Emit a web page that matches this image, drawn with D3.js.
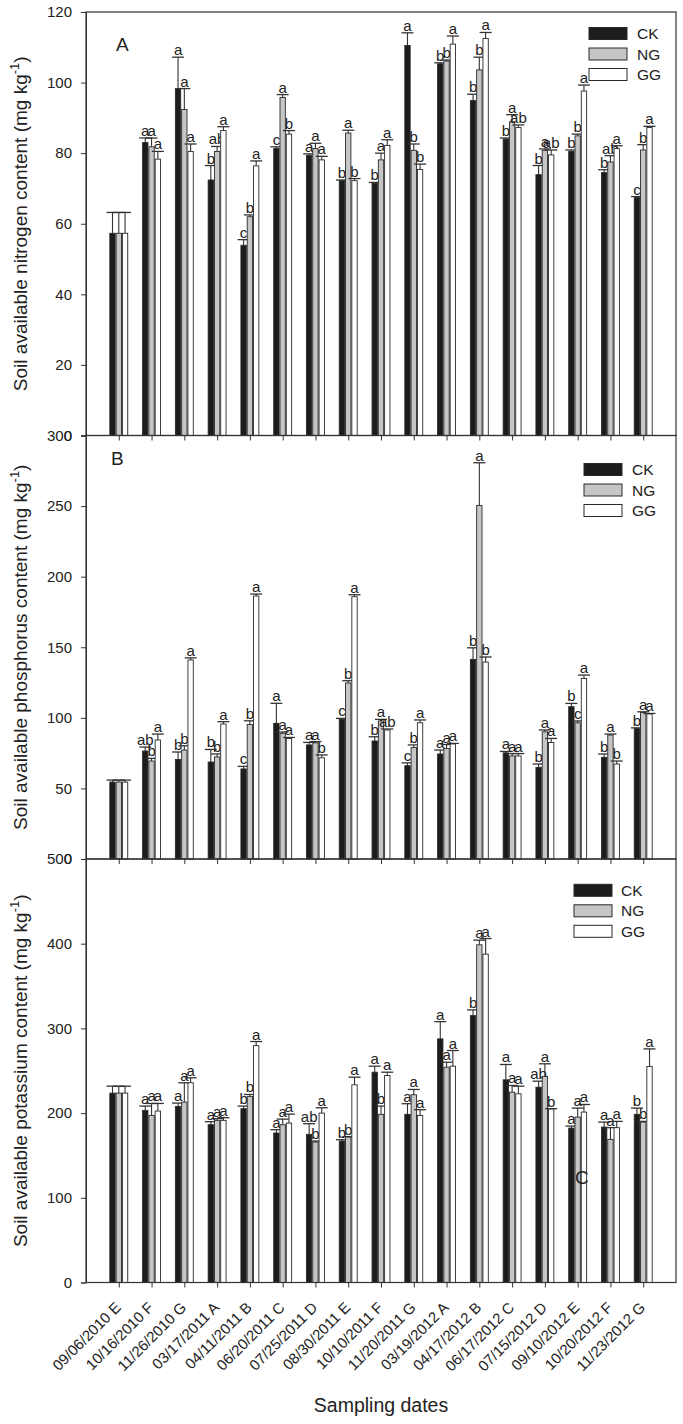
<!DOCTYPE html>
<html>
<head>
<meta charset="utf-8">
<script src="https://cdn.jsdelivr.net/npm/d3@7"></script>
<style>
  html, body { margin: 0; padding: 0; background: #fff; }
  svg { display: block; }
  text { font-family: "Liberation Sans", Arial, sans-serif; fill: #222; }
</style>
</head>
<body>
<svg id="chart" width="683" height="1424"></svg>
<script>
// ---------------- DATA ----------------
const categories = ["09/06/2010 E","10/16/2010 F","11/26/2010 G","03/17/2011 A","04/11/2011 B","06/20/2011 C","07/25/2011 D","08/30/2011 E","10/10/2011 F","11/20/2011 G","03/19/2012 A","04/17/2012 B","06/17/2012 C","07/15/2012 D","09/10/2012 E","10/20/2012 F","11/23/2012 G"];
const seriesNames = ["CK","NG","GG"];

// Panel A: nitrogen
const nCK    = [57.3, 83.0, 98.3, 72.4, 53.9, 81.3, 79.4, 72.2, 71.4, 110.5, 105.3, 94.9, 84.0, 73.9, 80.5, 74.5, 67.4];
const nCKerr = [5.9, 1.3, 8.9, 4.1, 1.6, 0.5, 0.4, 0.2, 0.3, 3.6, 0.3, 1.8, 0.3, 2.6, 0.4, 0.8, 0.3];
const nNG    = [57.3, 81.8, 92.4, 80.5, 62.0, 95.8, 81.3, 85.7, 78.1, 80.8, 106.1, 103.6, 88.9, 80.8, 84.9, 77.5, 80.9];
const nNGerr = [5.9, 2.5, 5.9, 1.4, 0.5, 0.8, 1.5, 0.8, 1.9, 1.8, 0.3, 3.6, 2.0, 0.4, 0.5, 1.8, 1.5];
const nGG    = [57.3, 78.3, 80.5, 86.4, 76.4, 85.4, 78.1, 72.2, 82.2, 75.4, 110.9, 112.5, 87.3, 79.5, 97.6, 81.3, 87.3];
const nGGerr = [5.9, 2.2, 2.1, 1.1, 1.4, 1.0, 1.0, 0.6, 1.6, 1.5, 2.3, 1.7, 0.7, 1.4, 1.7, 0.8, 0.3];
const nLetCK = ["","a","a","b","c","c","a","b","b","a","b","b","b","b","b","b","c"];
const nLetNG = ["","a","a","ab","b","a","a","a","a","b","b","b","a","a","b","ab","b"];
const nLetGG = ["","a","a","a","a","b","a","b","a","b","a","a","ab","ab","a","a","a"];
const nTicks = [0,20,40,60,80,100,120];

// Panel B: phosphorus
const pCK    = [54.5, 76.5, 70.5, 68.7, 63.8, 96.1, 80.8, 98.9, 83.6, 66.1, 74.4, 141.4, 75.2, 64.9, 107.9, 72.0, 92.3];
const pCKerr = [1.4, 2.8, 5.3, 8.9, 1.8, 14.2, 1.8, 0.7, 3.0, 2.0, 2.8, 8.2, 1.0, 2.4, 2.3, 2.4, 0.6];
const pNG    = [54.5, 69.4, 77.2, 72.3, 95.3, 89.0, 82.3, 124.7, 97.8, 79.0, 78.3, 250.5, 73.0, 90.1, 96.5, 87.8, 103.8];
const pNGerr = [1.4, 1.9, 3.0, 2.1, 2.6, 1.0, 0.9, 1.6, 1.1, 1.8, 2.8, 30.2, 1.7, 1.3, 1.3, 0.7, 0.5];
const pGG    = [54.5, 84.3, 141.0, 95.6, 186.3, 85.4, 71.7, 185.8, 91.4, 96.5, 81.5, 139.5, 73.0, 82.5, 127.9, 67.3, 102.7];
const pGGerr = [1.4, 4.2, 1.5, 1.7, 1.4, 0.7, 2.0, 1.4, 0.7, 2.0, 0.4, 3.6, 1.7, 2.9, 2.4, 2.1, 0.4];
const pLetCK = ["","ab","b","b","c","a","a","c","b","c","a","b","a","b","b","b","b"];
const pLetNG = ["","b","b","b","b","a","a","b","a","b","a","a","a","a","c","a","a"];
const pLetGG = ["","a","a","a","a","a","b","a","ab","a","a","b","a","a","a","b","a"];
const pTicks = [0,50,100,150,200,250,300];

// Panel C: potassium
const kCK    = [223.6, 203.2, 207.9, 186.3, 205.2, 176.5, 174.9, 167.0, 248.3, 198.5, 287.6, 315.1, 239.3, 230.6, 182.3, 183.5, 198.5];
const kCKerr = [8.2, 5.1, 3.9, 3.6, 3.1, 3.9, 12.6, 1.6, 7.1, 12.6, 20.4, 6.7, 18.1, 7.1, 2.4, 5.9, 7.4];
const kNG    = [223.6, 197.3, 213.0, 191.4, 219.7, 186.3, 165.8, 171.7, 198.5, 221.7, 254.2, 398.7, 224.7, 243.2, 195.3, 169.0, 189.4];
const kNGerr = [8.2, 14.1, 22.8, 2.0, 2.3, 6.6, 1.2, 0.5, 9.8, 6.2, 5.9, 5.5, 7.9, 15.0, 10.6, 13.8, 0.8];
const kGG    = [223.6, 202.4, 235.8, 191.4, 279.7, 188.2, 200.0, 233.4, 244.4, 197.3, 255.4, 387.7, 222.8, 204.7, 201.2, 182.8, 255.0];
const kGGerr = [8.2, 9.0, 5.9, 3.2, 4.8, 10.6, 6.3, 9.0, 3.9, 6.7, 18.5, 18.4, 9.0, 0.5, 9.0, 7.4, 20.8];
const kLetCK = ["","a","a","a","b","a","ab","b","a","a","a","b","a","ab","a","a","b"];
const kLetNG = ["","a","a","a","b","a","b","b","b","a","a","a","a","a","a","a","b"];
const kLetGG = ["","a","a","a","a","a","a","a","a","a","a","a","a","b","a","a","a"];
const kTicks = [0,100,200,300,400,500];

// ---------------- LAYOUT ----------------
const svg = d3.select("#chart");
const L = 86, R = 676, TOP = 12, PH = 423.5;
const fills = {CK: "#1c1c1c", NG: "#c6c6c6", GG: "#ffffff"};
const axisColor = "#333";

const panels = [
  {id: "A", vals: [nCK, nNG, nGG], errs: [nCKerr, nNGerr, nGGerr], lets: [nLetCK, nLetNG, nLetGG], ticks: nTicks, max: 120,
   title: "Soil available nitrogen content (mg kg", label: {x: 116, y: 38.5}, legend: {x: 589, y: 21.5, tx: 637}},
  {id: "B", vals: [pCK, pNG, pGG], errs: [pCKerr, pNGerr, pGGerr], lets: [pLetCK, pLetNG, pLetGG], ticks: pTicks, max: 300,
   title: "Soil available phosphorus content (mg kg", label: {x: 111, y: 29.5}, legend: {x: 584, y: 34, tx: 632}},
  {id: "C", vals: [kCK, kNG, kGG], errs: [kCKerr, kNGerr, kGGerr], lets: [kLetCK, kLetNG, kLetGG], ticks: kTicks, max: 500,
   title: "Soil available potassium content (mg kg", label: {x: 575, y: 325}, legend: {x: 574, y: 31.3, tx: 621}}
];

const x = d3.scalePoint().domain(categories).range([L, R]).padding(1);
const sub = d3.scaleBand().domain(seriesNames).range([-9.9, 9.9]).padding(0.15);

panels.forEach((p, pi) => {
  const top = TOP + pi * PH, bottom = top + PH;
  const y = d3.scaleLinear().domain([0, p.max]).range([bottom, top]);
  const g = svg.append("g");

  // bars
  seriesNames.forEach((s, si) => {
    const recs = categories.map((c, i) => ({c, v: p.vals[si][i], e: p.errs[si][i], l: p.lets[si][i]}));
    const sg = g.append("g");
    // error bars (upper only)
    sg.selectAll("line.err").data(recs).join("line")
      .attr("x1", d => x(d.c) + sub(s) + sub.bandwidth()/2)
      .attr("x2", d => x(d.c) + sub(s) + sub.bandwidth()/2)
      .attr("y1", d => y(d.v)).attr("y2", d => y(d.v + d.e))
      .attr("stroke", axisColor).attr("stroke-width", 1.1);
    sg.selectAll("line.cap").data(recs).join("line")
      .attr("x1", d => x(d.c) + sub(s) + sub.bandwidth()/2 - 6)
      .attr("x2", d => x(d.c) + sub(s) + sub.bandwidth()/2 + 6)
      .attr("y1", d => y(d.v + d.e)).attr("y2", d => y(d.v + d.e))
      .attr("stroke", axisColor).attr("stroke-width", 1.3);
    sg.selectAll("rect").data(recs).join("rect")
      .attr("x", d => x(d.c) + sub(s))
      .attr("width", sub.bandwidth())
      .attr("y", d => y(d.v))
      .attr("height", d => y(0) - y(d.v))
      .attr("fill", fills[s]).attr("stroke", "#2a2a2a").attr("stroke-width", 0.9);
    sg.selectAll("text").data(recs).join("text")
      .attr("x", d => x(d.c) + sub(s) + sub.bandwidth()/2)
      .attr("y", d => y(d.v + d.e) - 2)
      .attr("text-anchor", "middle")
      .attr("font-size", 15)
      .text(d => d.l);
  });

  // frame
  g.append("rect").attr("x", L).attr("y", top).attr("width", R - L).attr("height", PH)
    .attr("fill", "none").attr("stroke", axisColor).attr("stroke-width", 1.2);

  // y axis
  const ya = g.append("g").attr("transform", `translate(${L},0)`)
    .call(d3.axisLeft(y).tickValues(p.ticks).tickSize(5).tickPadding(9).tickFormat(d3.format("d")));
  ya.select(".domain").attr("stroke", axisColor);
  ya.selectAll(".tick line").attr("stroke", axisColor);
  ya.selectAll(".tick text").attr("font-size", 15).attr("fill", "#222")
    .attr("font-family", "Liberation Sans, Arial, sans-serif");

  // x axis
  const xa = g.append("g").attr("transform", `translate(0,${bottom})`)
    .call(d3.axisBottom(x).tickSize(5).tickFormat(""));
  xa.select(".domain").remove();
  xa.selectAll(".tick line").attr("stroke", axisColor);

  if (pi === 2) {
    g.selectAll("text.xl").data(categories).join("text")
      .attr("class", "xl")
      .attr("transform", d => `translate(${x(d) + 3},${bottom + 26}) rotate(-45)`)
      .attr("text-anchor", "end")
      .attr("font-size", 15)
      .text(d => d);
  }

  // y title
  const t = g.append("text")
    .attr("transform", `translate(27,${top + PH/2}) rotate(-90)`)
    .attr("text-anchor", "middle")
    .attr("font-size", 19);
  t.append("tspan").text(p.title);
  t.append("tspan").attr("font-size", 13).attr("dy", -8).text("-1");
  t.append("tspan").attr("dy", 8).text(")");

  // panel letter
  g.append("text").attr("x", p.label.x).attr("y", top + p.label.y)
    .attr("font-family", "Liberation Serif, Times New Roman, serif")
    .attr("font-size", 19).text(p.id);

  // legend
  const lg = g.append("g");
  seriesNames.forEach((s, si) => {
    const cy = top + p.legend.y + si * 20.5;
    lg.append("rect").attr("x", p.legend.x).attr("y", cy - 6).attr("width", 38).attr("height", 12)
      .attr("fill", fills[s]).attr("stroke", "#2a2a2a").attr("stroke-width", 1);
    lg.append("text").attr("x", p.legend.tx).attr("y", cy + 5.5).attr("font-size", 15.5).text(s);
  });
});

// x title
svg.append("text").attr("x", 381).attr("y", 1412).attr("text-anchor", "middle")
  .attr("font-size", 19.5).text("Sampling dates");
</script>
</body>
</html>
